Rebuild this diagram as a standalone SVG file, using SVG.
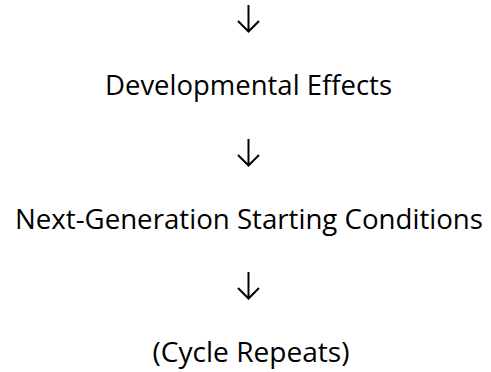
<svg xmlns="http://www.w3.org/2000/svg" width="491" height="372" viewBox="0 0 491 372">
<style>
.lbl{font-family:"Open Sans","Noto Sans","Liberation Sans",sans-serif;font-size:28px;fill:#000;text-anchor:middle}
.arr{fill:none;stroke:#000;stroke-width:2;stroke-linecap:butt;stroke-linejoin:miter}
</style>
<rect width="491" height="372" fill="#fff"/>
<g id="connectors">
<path class="arr" d="M248.5 5V32M238 21L248.5 31.5L259 21"/>
<path class="arr" d="M248.5 139V166M238 155L248.5 165.5L259 155"/>
<path class="arr" d="M248.5 272V299M238 288L248.5 298.5L259 288"/>
</g>
<g id="node-developmental">
<text class="lbl" x="248.5" y="95" textLength="287" lengthAdjust="spacingAndGlyphs">Developmental Effects</text>
</g>
<g id="node-next-generation">
<text class="lbl" x="249" y="229" textLength="468" lengthAdjust="spacingAndGlyphs">Next-Generation Starting Conditions</text>
</g>
<g id="node-cycle">
<text class="lbl" x="251" y="362" textLength="197" lengthAdjust="spacingAndGlyphs">(Cycle Repeats)</text>
</g>
</svg>
